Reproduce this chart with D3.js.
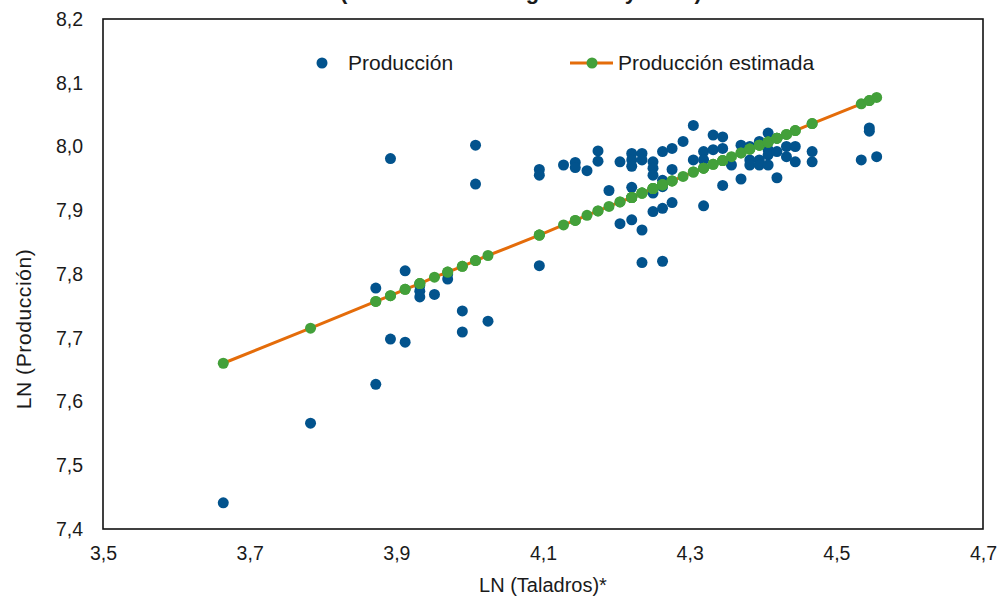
<!DOCTYPE html>
<html>
<head>
<meta charset="utf-8">
<script src="https://cdn.jsdelivr.net/npm/d3@7"></script>
<style>
  html, body { margin: 0; padding: 0; background: #fff; }
  svg { display: block; font-family: "Liberation Sans", Arial, sans-serif; }
</style>
</head>
<body>
<svg id="chart" width="1001" height="598"></svg>
<script>
// ---- Data ----
const titleText = "(Producción en logaritmos y MCO)";
const xLabel = "LN (Taladros)*";
const yLabel = "LN (Producción)";
const seriesNames = ["Producción", "Producción estimada"];

const xTicks = [3.5, 3.7, 3.9, 4.1, 4.3, 4.5, 4.7];
const yTicks = [7.4, 7.5, 7.6, 7.7, 7.8, 7.9, 8.0, 8.1, 8.2];

const taladros = [
  3.664, 3.783, 3.872, 3.872, 3.892, 3.892, 3.912, 3.912, 3.932, 3.932,
  3.932, 3.952, 3.970, 3.970, 3.990, 3.990, 4.008, 4.008, 4.025, 4.095,
  4.095, 4.095, 4.128, 4.144, 4.144, 4.160, 4.175, 4.175, 4.190, 4.205,
  4.205, 4.221, 4.221, 4.221, 4.221, 4.221, 4.235, 4.235, 4.235, 4.235,
  4.250, 4.250, 4.250, 4.250, 4.250, 4.263, 4.263, 4.263, 4.263, 4.263,
  4.276, 4.276, 4.276, 4.291, 4.305, 4.305, 4.319, 4.319, 4.319, 4.332,
  4.332, 4.345, 4.345, 4.345, 4.357, 4.370, 4.370, 4.382, 4.382, 4.382,
  4.395, 4.395, 4.395, 4.407, 4.407, 4.407, 4.407, 4.419, 4.419, 4.419,
  4.432, 4.432, 4.444, 4.444, 4.467, 4.467, 4.534, 4.545, 4.545, 4.555
];

const produccion = [
  7.441, 7.566, 7.778, 7.627, 7.981, 7.698, 7.805, 7.693, 7.782, 7.773,
  7.764, 7.768, 7.800, 7.792, 7.742, 7.709, 8.002, 7.941, 7.726, 7.964,
  7.955, 7.813, 7.971, 7.975, 7.967, 7.962, 7.993, 7.977, 7.931, 7.976,
  7.879, 7.989, 7.979, 7.969, 7.936, 7.885, 7.989, 7.979, 7.869, 7.818,
  7.976, 7.966, 7.955, 7.927, 7.898, 7.992, 7.947, 7.937, 7.903, 7.820,
  7.997, 7.964, 7.912, 8.008, 8.033, 7.979, 7.992, 7.979, 7.907, 8.018,
  7.995, 8.015, 7.997, 7.939, 7.971, 8.002, 7.949, 8.000, 7.979, 7.971,
  8.008, 7.979, 7.971, 8.021, 7.995, 7.987, 7.971, 8.013, 7.992, 7.951,
  8.000, 7.984, 8.000, 7.976, 7.992, 7.976, 7.979, 8.029, 8.024, 7.984
];

const estimada = [
  7.660, 7.715, 7.757, 7.757, 7.766, 7.766, 7.776, 7.776, 7.785, 7.785,
  7.785, 7.795, 7.803, 7.803, 7.812, 7.812, 7.821, 7.821, 7.829, 7.861,
  7.861, 7.861, 7.877, 7.884, 7.884, 7.892, 7.899, 7.899, 7.906, 7.913,
  7.913, 7.920, 7.920, 7.920, 7.920, 7.920, 7.927, 7.927, 7.927, 7.927,
  7.934, 7.934, 7.934, 7.934, 7.934, 7.940, 7.940, 7.940, 7.940, 7.940,
  7.946, 7.946, 7.946, 7.953, 7.960, 7.960, 7.966, 7.966, 7.966, 7.972,
  7.972, 7.978, 7.978, 7.978, 7.984, 7.990, 7.990, 7.996, 7.996, 7.996,
  8.002, 8.002, 8.002, 8.007, 8.007, 8.007, 8.007, 8.013, 8.013, 8.013,
  8.019, 8.019, 8.025, 8.025, 8.036, 8.036, 8.067, 8.072, 8.072, 8.077
];

// ---- Layout ----
const svg = d3.select("#chart");
const plot = { left: 103, right: 983, top: 19, bottom: 529 };
const colors = { blue: "#02538d", green: "#43a03a", orange: "#e46c0a", text: "#1a1a1a" };

const x = d3.scaleLinear().domain([3.5, 4.7]).range([plot.left, plot.right]);
const y = d3.scaleLinear().domain([7.4, 8.2]).range([plot.bottom, plot.top]);

const es = d3.formatLocale({ decimal: ",", thousands: ".", grouping: [3], currency: ["", "€"] });
const fmt = es.format(".1f");

// Title (cut off at the top edge, as in the reference)
svg.append("text")
  .attr("x", 340).attr("y", -1)
  .attr("font-size", 22).attr("font-weight", "bold")
  .attr("fill", colors.text)
  .text(titleText);

// Axes
const xAxis = d3.axisBottom(x).tickValues(xTicks).tickFormat(fmt).tickSize(0).tickPadding(0);
const yAxis = d3.axisLeft(y).tickValues(yTicks).tickFormat(fmt).tickSize(0).tickPadding(0);

const gx = svg.append("g").attr("transform", `translate(0,${plot.bottom})`).call(xAxis);
gx.select(".domain").remove();
gx.selectAll("text").attr("y", 31).attr("dy", 0)
  .attr("font-size", 19.5).attr("fill", colors.text)
  .attr("font-family", '"Liberation Sans", Arial, sans-serif');

const gy = svg.append("g").attr("transform", `translate(${plot.left - 20},0)`).call(yAxis);
gy.select(".domain").remove();
gy.selectAll("text").attr("x", 0).attr("dy", "0.33em")
  .attr("font-size", 19.5).attr("fill", colors.text)
  .attr("font-family", '"Liberation Sans", Arial, sans-serif');

// Frame
svg.append("rect")
  .attr("x", plot.left).attr("y", plot.top)
  .attr("width", plot.right - plot.left).attr("height", plot.bottom - plot.top)
  .attr("fill", "none").attr("stroke", "#111").attr("stroke-width", 1.6);

// Axis titles
svg.append("text")
  .attr("x", 543).attr("y", 592).attr("text-anchor", "middle")
  .attr("font-size", 20).attr("fill", colors.text)
  .text(xLabel);
svg.append("text")
  .attr("transform", "translate(31,329) rotate(-90)")
  .attr("text-anchor", "middle")
  .attr("font-size", 21).attr("letter-spacing", 0.6).attr("fill", colors.text)
  .text(yLabel);

// Data
const pts = taladros.map((t, i) => ({ x: t, y: produccion[i], e: estimada[i] }));

svg.append("g").selectAll("circle").data(pts).join("circle")
  .attr("cx", d => x(d.x)).attr("cy", d => y(d.y)).attr("r", 5.5)
  .attr("fill", colors.blue);

const sorted = pts.slice().sort((a, b) => a.x - b.x);
const line = d3.line().x(d => x(d.x)).y(d => y(d.e));
svg.append("path").datum(sorted)
  .attr("d", line).attr("fill", "none")
  .attr("stroke", colors.orange).attr("stroke-width", 3);

svg.append("g").selectAll("circle").data(sorted).join("circle")
  .attr("cx", d => x(d.x)).attr("cy", d => y(d.e)).attr("r", 5.5)
  .attr("fill", colors.green);

// Legend
const lg = svg.append("g");
lg.append("circle").attr("cx", 322).attr("cy", 63).attr("r", 5.5).attr("fill", colors.blue);
lg.append("text").attr("x", 348).attr("y", 70).attr("font-size", 21).attr("fill", colors.text).text(seriesNames[0]);
lg.append("line").attr("x1", 570).attr("x2", 613).attr("y1", 63).attr("y2", 63)
  .attr("stroke", colors.orange).attr("stroke-width", 3);
lg.append("circle").attr("cx", 592).attr("cy", 63).attr("r", 5.5).attr("fill", colors.green);
lg.append("text").attr("x", 618).attr("y", 70).attr("font-size", 21).attr("fill", colors.text).text(seriesNames[1]);
</script>
</body>
</html>
